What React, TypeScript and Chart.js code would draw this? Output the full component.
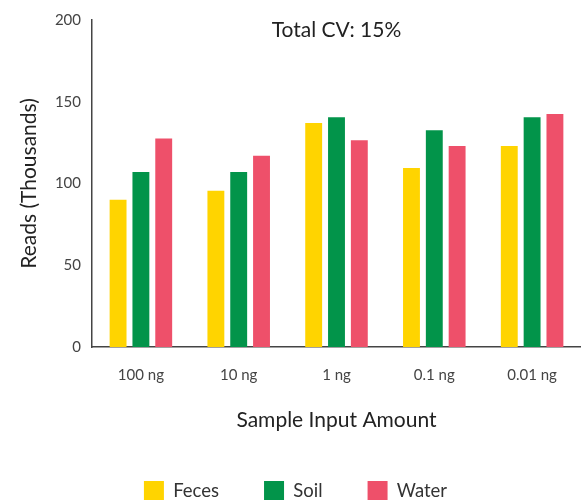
import React, { useEffect, useRef } from "react";
import { Chart, registerables } from "chart.js";

Chart.register(...registerables);

const categories = ["100 ng", "10 ng", "1 ng", "0.1 ng", "0.01 ng"];
const fecesValues = [90, 95.5, 137, 109.5, 123];
const soilValues = [107, 107, 140.5, 132.5, 140.5];
const waterValues = [127.5, 117, 126.5, 123, 142.5];
const seriesNames = ["Feces", "Soil", "Water"];
const chartTitle = "Total CV: 15%";
const yTitle = "Reads (Thousands)";
const xTitle = "Sample Input Amount";

const FONT = "Lato, 'Open Sans', sans-serif";

const titlePlugin = {
  id: "cvTitle",
  afterDraw(chart: any) {
    const { ctx, chartArea } = chart;
    ctx.save();
    ctx.font = `21px ${FONT}`;
    ctx.fillStyle = "#222";
    ctx.textAlign = "center";
    ctx.textBaseline = "middle";
    ctx.fillText(chartTitle, (chartArea.left + chartArea.right) / 2, chartArea.top + 10);
    ctx.restore();
  },
};

export default function App() {
  const ref = useRef<HTMLCanvasElement>(null);
  useEffect(() => {
    if (!ref.current) return;
    const chart = new Chart(ref.current, {
      type: "bar",
      data: {
        labels: categories,
        datasets: [
          { label: seriesNames[0], data: fecesValues, backgroundColor: "#FFD400", borderWidth: 0 },
          { label: seriesNames[1], data: soilValues, backgroundColor: "#02944A", borderWidth: 0 },
          { label: seriesNames[2], data: waterValues, backgroundColor: "#EE506A", borderWidth: 0 },
        ],
      },
      options: {
        responsive: false,
        animation: false,
        layout: { padding: { left: 10, right: 0, top: 19, bottom: 0 } },
        datasets: { bar: { categoryPercentage: 0.7, barPercentage: 0.74 } },
        plugins: {
          tooltip: { enabled: false },
          title: { display: false },
          legend: {
            position: "bottom",
            labels: {
              boxWidth: 20,
              boxHeight: 20,
              padding: 45,
              color: "#333",
              font: { family: FONT, size: 18.5 },
            },
          },
        },
        scales: {
          x: {
            grid: { display: false, drawTicks: false },
            border: { display: true, color: "#444", width: 1.5 },
            ticks: { color: "#444", font: { family: FONT, size: 15 }, padding: 19 },
            title: {
              display: true,
              text: xTitle,
              color: "#222",
              font: { family: FONT, size: 21 },
              padding: { top: 0, bottom: 3 },
            },
            afterFit: (s: any) => {
              s.height = 89;
            },
          },
          y: {
            min: 0,
            max: 200,
            grid: { display: false, drawTicks: false },
            border: { display: true, color: "#444", width: 1.5 },
            ticks: { stepSize: 50, color: "#444", font: { family: FONT, size: 15 }, padding: 11 },
            title: {
              display: true,
              text: yTitle,
              color: "#222",
              font: { family: FONT, size: 21 },
              padding: { top: 7, bottom: 0 },
            },
            afterFit: (s: any) => {
              s.width = 82;
            },
          },
        },
      },
      plugins: [titlePlugin],
    });
    return () => chart.destroy();
  }, []);
  return (
    <div style={{ position: "absolute", left: 0, top: 0, width: 581, height: 511, overflow: "hidden" }}>
      <canvas ref={ref} width={581} height={511} style={{ width: 581, height: 511, display: "block" }} />
    </div>
  );
}
